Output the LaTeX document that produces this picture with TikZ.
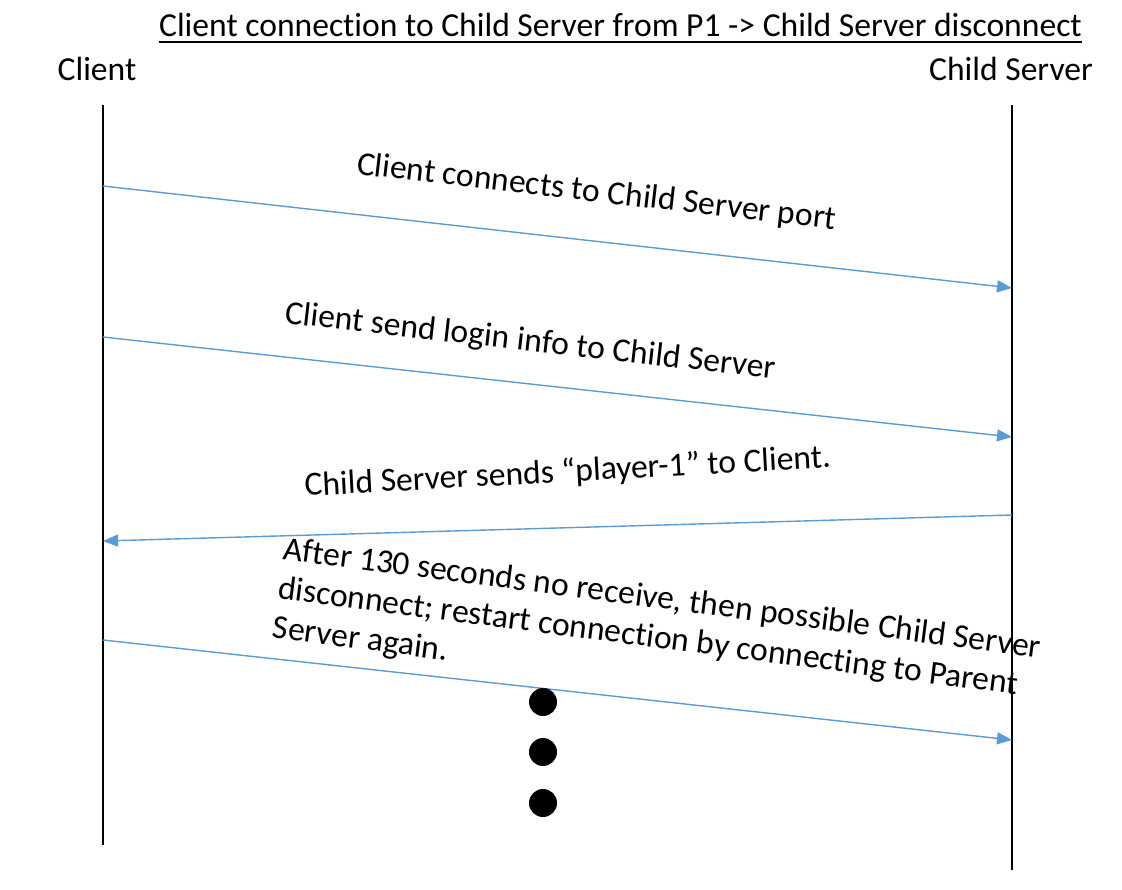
\documentclass[tikz,border=0pt]{standalone}
\usepackage{fontspec}
\setmainfont{Carlito}[Ligatures={NoCommon,NoContextual}, Contextuals=NoAlternate]
\usetikzlibrary{arrows.meta}
\definecolor{msgblue}{HTML}{5B9BD5}
\newcommand{\tinolig}{t\kern0pt i}
\tikzset{
  lifeline/.style={line width=1.4pt, black},
  msg/.style={line width=1.4pt, msgblue, -{Triangle[length=15pt,width=12pt]}},
  txt/.style={inner sep=0pt, font=\fontsize{33.6}{39.5}\selectfont},
  dot/.style={circle, fill=black, minimum size=28pt, inner sep=0pt},
}
\begin{document}
\begin{tikzpicture}[x=1pt,y=-1pt]
\useasboundingbox (0,0) rectangle (1122,890);
% title and headings
\node[txt, anchor=base] (title) at (620.5,37) {Client connec\tinolig on to Child Server from P1 -> Child Server disconnect};
\draw[line width=1.6pt] ([yshift=-5pt]title.base west) -- ([yshift=-5pt]title.base east);
\node[txt, anchor=base] (hclient) at (97,81) {Client};
\node[txt, anchor=base] (hserver) at (1011,81) {Child Server};
% lifelines
\coordinate (ctop) at (103,105);
\coordinate (cbot) at (103,845);
\coordinate (stop) at (1012,105);
\coordinate (sbot) at (1012,870);
\draw[lifeline] (ctop) -- (cbot);
\draw[lifeline] (stop) -- (sbot);
% message end points
\coordinate (c1) at (103,186);  \coordinate (s1) at (1012,288);
\coordinate (c2) at (103,337);  \coordinate (s2) at (1012,437);
\coordinate (s3) at (1012,515); \coordinate (c3) at (103,541);
\coordinate (c4) at (103,640);  \coordinate (s4) at (1012,740);
\draw[msg] (c1) -- (s1);
\draw[msg] (c2) -- (s2);
\draw[msg] (s3) -- (c3);
\draw[msg] (c4) -- (s4);
% labels
\node[txt, anchor=base west, rotate=-6.6] (l1) at (356,174) {Client connects to Child Server port};
\node[txt, anchor=base west, rotate=-6.5] (l2) at (284,323) {Client send login info to Child Server};
\node[txt, anchor=base west, rotate=3.1] (l3) at (305,496) {Child Server sends “player-1” to Client.};
\node[txt, anchor=north west, rotate=-7.4, align=left] (l4) at (285,536)
  {After 130 seconds no receive, then possible Child Server\\disconnect; restart connec\tinolig on by connec\tinolig ng to Parent\\Server again.};
% continuation dots
\node[dot] (d1) at (543,702) {};
\node[dot] (d2) at (543,752) {};
\node[dot] (d3) at (543,803) {};
\end{tikzpicture}
\end{document}
